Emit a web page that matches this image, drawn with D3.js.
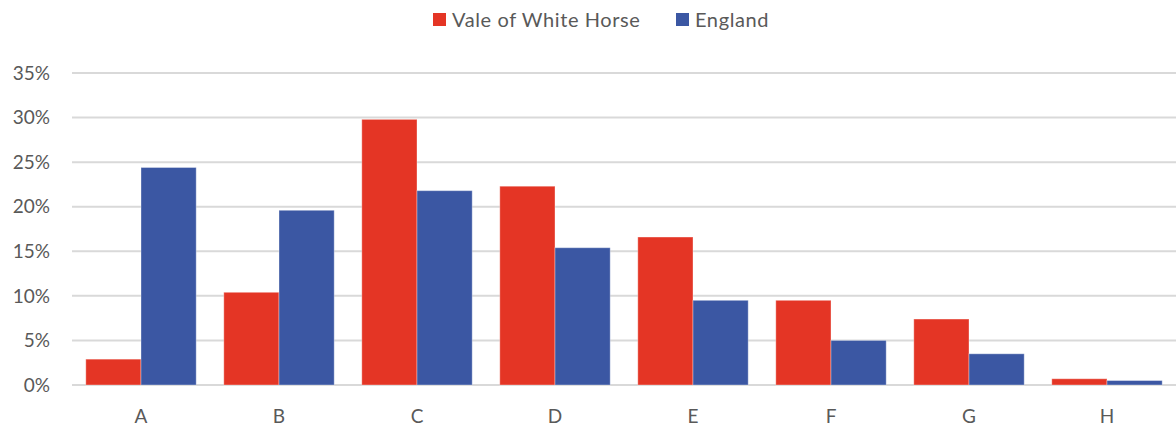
<!DOCTYPE html>
<meta charset="utf-8">
<style>
body { margin: 0; background: #fff; }
text { font-family: Lato, 'Open Sans', sans-serif; fill: #595959; }
.legend text { letter-spacing: 0.6px; }
.grid line { stroke: #d9d9d9; stroke-width: 2px; }
</style>
<svg id="chart" width="1176" height="428"></svg>
<script src="https://d3js.org/d3.v7.min.js"></script>
<script>
const categories = ["A", "B", "C", "D", "E", "F", "G", "H"];
const seriesNames = ["Vale of White Horse", "England"];
const vale = [2.9, 10.4, 29.8, 22.3, 16.6, 9.5, 7.4, 0.7];
const england = [24.4, 19.6, 21.8, 15.4, 9.5, 5.0, 3.5, 0.5];
const yTicks = [0, 5, 10, 15, 20, 25, 30, 35];
const colors = ["#e43525", "#3b57a3"];

const svg = d3.select("#chart"),
    plotLeft = 72, plotRight = 1176, plotTop = 73, plotBottom = 385;

var x = d3.scaleBand().domain(categories).range([plotLeft, plotRight])
    .paddingInner(0.2).paddingOuter(0.1);
var x1 = d3.scaleBand().domain(seriesNames).range([0, x.bandwidth()]);
var y = d3.scaleLinear().domain([0, 35]).range([plotBottom, plotTop]);

// gridlines
svg.append("g").attr("class", "grid")
  .selectAll("line").data(yTicks).enter().append("line")
    .attr("x1", plotLeft).attr("x2", plotRight)
    .attr("y1", d => y(d)).attr("y2", d => y(d));

// y labels
svg.append("g").selectAll("text").data(yTicks).enter().append("text")
    .attr("x", 50).attr("y", d => y(d)).attr("dy", "0.35em")
    .attr("text-anchor", "end").style("font-size", "19px")
    .text(d => d + "%");

// x labels
svg.append("g").selectAll("text").data(categories).enter().append("text")
    .attr("x", d => x(d) + x.bandwidth() / 2).attr("y", 416).attr("dy", "0.35em")
    .attr("text-anchor", "middle").style("font-size", "19px")
    .text(d => d);

// bars
var rows = categories.map((c, i) => ({cat: c, vals: [vale[i], england[i]]}));
var groups = svg.append("g").selectAll("g").data(rows).enter().append("g")
    .attr("transform", d => "translate(" + x(d.cat) + ",0)");
groups.selectAll("rect")
  .data(d => d.vals.map((v, j) => ({name: seriesNames[j], v: v, j: j})))
  .enter().append("rect")
    .attr("x", d => x1(d.name))
    .attr("width", x1.bandwidth())
    .attr("y", d => y(d.v))
    .attr("height", d => plotBottom - y(d.v))
    .attr("fill", d => colors[d.j])
    .attr("stroke", "#fff").attr("stroke-opacity", 0.35).attr("stroke-width", 1);

// legend
var legend = svg.append("g").attr("class", "legend");
var lx = [433, 676];
seriesNames.forEach(function(n, i) {
  legend.append("rect").attr("x", lx[i]).attr("y", 13).attr("width", 13).attr("height", 13)
      .attr("fill", colors[i]);
  legend.append("text").attr("x", lx[i] + 19).attr("y", 20).attr("dy", "0.35em")
      .style("font-size", "20px").text(n);
});
</script>
